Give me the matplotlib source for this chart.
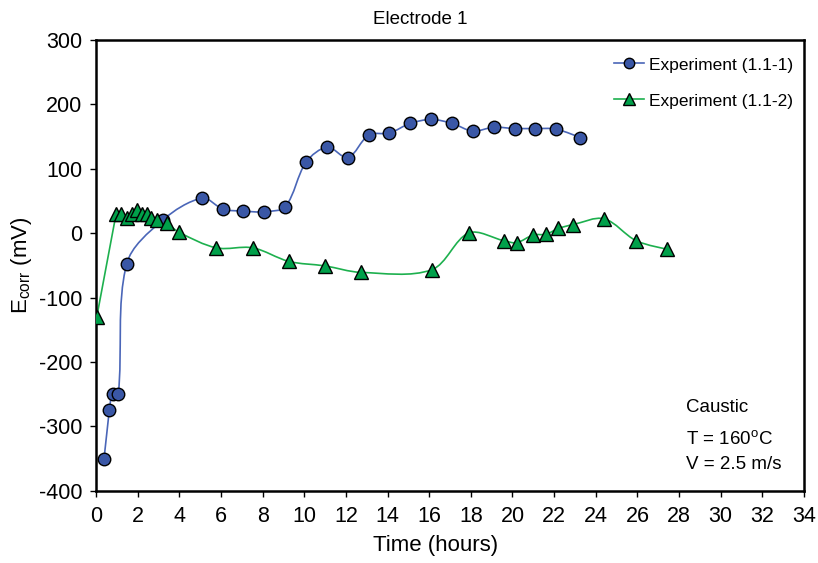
import numpy as np
import matplotlib
matplotlib.use('Agg')
import matplotlib.pyplot as plt
from matplotlib.path import Path
from matplotlib.patches import PathPatch

plt.rcParams['font.family'] = ['Liberation Sans', 'DejaVu Sans']
plt.rcParams['mathtext.fontset'] = 'custom'
plt.rcParams['mathtext.rm'] = 'Liberation Sans'
plt.rcParams['mathtext.it'] = 'Liberation Sans'
plt.rcParams['axes.unicode_minus'] = False

# Experiment (1.1-1)
t1 = [0.38, 0.64, 0.80, 1.07, 1.47, 3.20, 5.10, 6.10, 7.07, 8.08, 9.09,
      10.09, 11.11, 12.10, 13.10, 14.09, 15.09, 16.10, 17.10, 18.09,
      19.10, 20.10, 21.10, 22.09, 23.25]
e1 = [-351, -274, -249, -249, -48, 20, 54, 37, 34, 33, 41,
      110, 133, 117, 152, 155, 170, 176, 170, 158,
      164, 162, 162, 161, 148]

# Experiment (1.1-2)
t2 = [0.03, 0.96, 1.22, 1.47, 1.73, 1.95, 2.19, 2.43, 2.66, 2.91, 3.39,
      3.99, 5.78, 7.53, 9.26, 10.99, 12.71, 16.12, 17.90, 19.60, 20.20,
      21.00, 21.60, 22.20, 22.90, 24.40, 25.94, 27.42]
e2 = [-131, 29, 30, 24, 30, 35, 30, 30, 24, 20, 15,
      1, -23, -23, -44, -51, -61, -57, 0, -12, -15,
      -3, -2, 7, 13, 22, -12, -25]

XLIM = (0, 34)
YLIM = (-400, 300)


def smooth_path(x, y, sx, sy):
    # smoothed line: cubic Bezier per segment, tangent weighted by chord length
    x = np.asarray(x, float)
    y = np.asarray(y, float)
    px, py = x * sx, y * sy
    seg = np.hypot(np.diff(px), np.diff(py))
    n = len(x)
    tan = np.zeros((n, 2))
    for i in range(n):
        i0 = max(i - 1, 0)
        i2 = min(i + 1, n - 1)
        tan[i] = (x[i2] - x[i0], y[i2] - y[i0])
    verts = [(x[0], y[0])]
    codes = [Path.MOVETO]
    for i in range(n - 1):
        la = seg[i - 1] if i > 0 else seg[i]
        lb = seg[i + 1] if i < n - 2 else seg[i]
        w1 = seg[i] / (la + seg[i]) / 3 if i > 0 else 0.0
        w2 = seg[i] / (lb + seg[i]) / 3 if i < n - 2 else 0.0
        if i == 0 and seg[0] > 3 * lb:
            w2 = 0.0  # keep a long first jump straight
        c1 = (x[i] + tan[i][0] * w1, y[i] + tan[i][1] * w1)
        c2 = (x[i + 1] - tan[i + 1][0] * w2, y[i + 1] - tan[i + 1][1] * w2)
        verts += [c1, c2, (x[i + 1], y[i + 1])]
        codes += [Path.CURVE4] * 3
    return Path(verts, codes)


blue_line, blue_face = '#4A66B8', '#3A57A6'
green_line, green_face = '#1DB04E', '#00A04A'

fig = plt.figure(figsize=(8.18, 5.63), dpi=100)
ax = fig.add_axes([0.1174, 0.1279, 0.8655, 0.8019])

sx = 708 / (XLIM[1] - XLIM[0])
sy = 451 / (YLIM[1] - YLIM[0])
ax.add_patch(PathPatch(smooth_path(t1, e1, sx, sy), fill=False, ec=blue_line, lw=1.2, zorder=2))
ax.add_patch(PathPatch(smooth_path(t2, e2, sx, sy), fill=False, ec=green_line, lw=1.2, zorder=2))
ax.plot(t1, e1, ls='none', marker='o', ms=9, mfc=blue_face, mec='black', mew=1.0, zorder=3)
ax.plot(t2, e2, ls='none', marker='^', ms=9.5, mfc=green_face, mec='black', mew=1.0, zorder=3)

# legend handles
ax.plot([], [], color=blue_line, lw=1.2, marker='o', ms=7.5, mfc=blue_face, mec='black',
        label='Experiment (1.1-1)')
ax.plot([], [], color=green_line, lw=1.2, marker='^', ms=8, mfc=green_face, mec='black',
        label='Experiment (1.1-2)')
ax.legend(loc='upper right', frameon=False, fontsize=12.5, handlelength=1.75,
          handletextpad=0.3, labelspacing=1.2, bbox_to_anchor=(1.007, 0.995))

ax.set_xlim(*XLIM)
ax.set_ylim(*YLIM)
ax.set_xticks(np.arange(0, 35, 2))
ax.set_yticks(np.arange(-400, 301, 100))
ax.tick_params(direction='out', length=4, width=1, labelsize=15.5)
ax.tick_params(axis='x', pad=6.5)
ax.tick_params(axis='y', pad=6)
for s in ax.spines.values():
    s.set_linewidth(1.8)

ax.set_title('Electrode 1', fontsize=13.5, pad=11, x=0.458)
ax.set_xlabel('Time (hours)', fontsize=16, labelpad=6, x=0.48)
ax.set_ylabel(r'E$_{\mathrm{corr}}$ (mV)', fontsize=16, labelpad=3)

ax.text(0.833, 0.174, 'Caustic', transform=ax.transAxes, fontsize=13.5)
ax.text(0.833, 0.104, r'T = 160$^{\mathrm{o}}$C', transform=ax.transAxes, fontsize=13.5)
ax.text(0.833, 0.049, 'V = 2.5 m/s', transform=ax.transAxes, fontsize=13.5)

fig.savefig('out.png', dpi=100)
